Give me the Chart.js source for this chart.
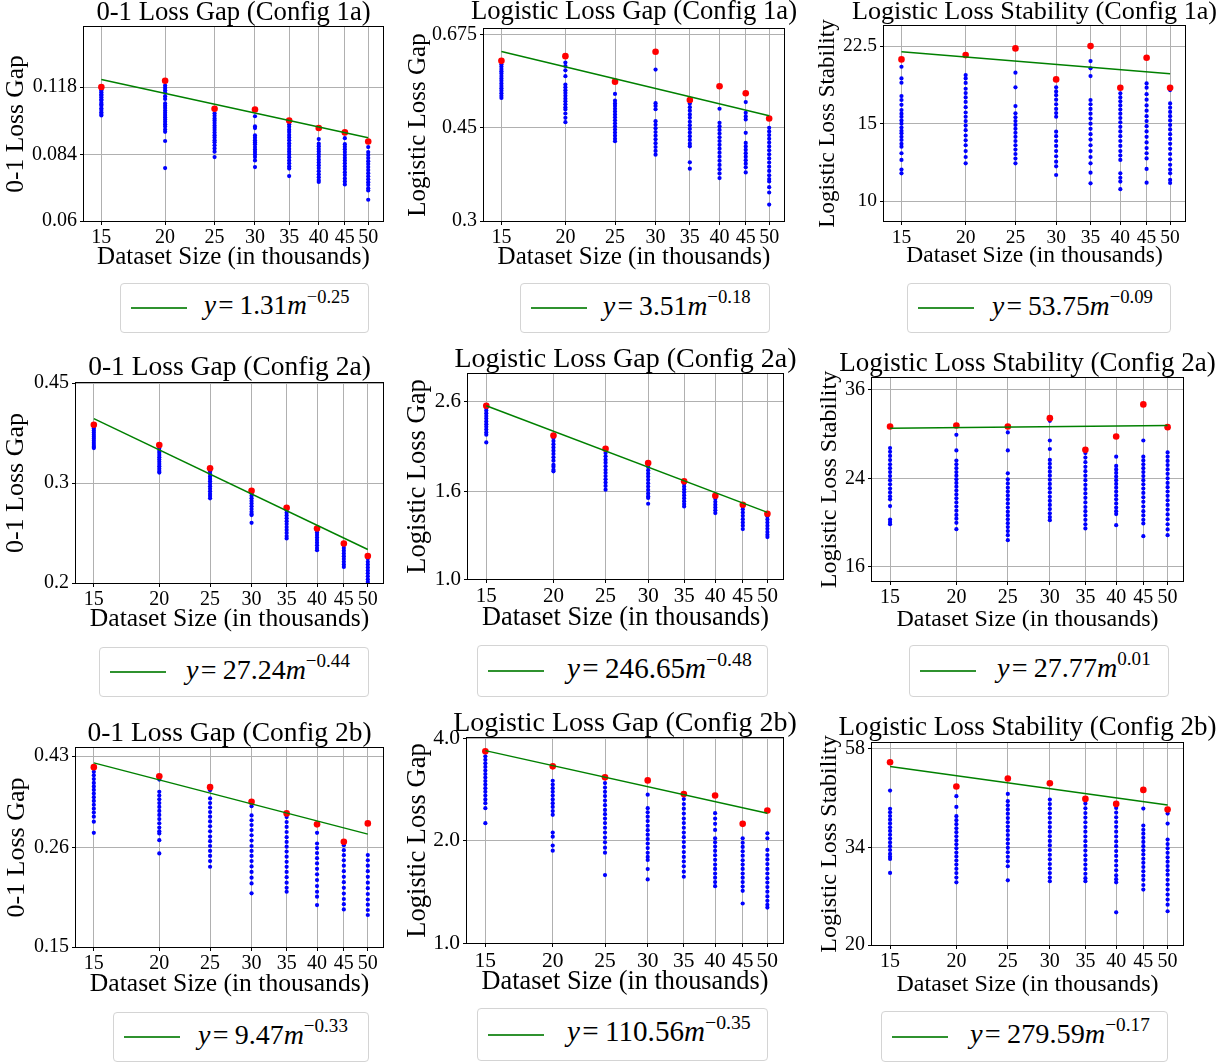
<!DOCTYPE html>
<html>
<head>
<meta charset="utf-8">
<title>Loss gap and stability vs dataset size</title>
<script src="https://cdn.jsdelivr.net/npm/chart.js"></script>
<style>
	body { margin: 0; width: 1228px; height: 1063px; position: relative; overflow: hidden; background: #fff; font-family: 'Liberation Serif', serif; }
	canvas { position: absolute; }
	.legend { position: absolute; box-sizing: border-box; border: 1px solid #d4d4d4; border-radius: 4px; background: #fff; }
	.legend .swatch { position: absolute; left: 10px; width: 56px; height: 2px; background: #2f922f; }
	.legend .eq { position: absolute; font-family: 'Liberation Serif', serif; white-space: nowrap; color: #000; }
	.legend .eq .rel { margin: 0 0.22em 0 0.08em; }
	.legend .eq sup { font-size: 0.68em; line-height: 0; vertical-align: 0.62em; }
</style>
</head>
<body>
<script>

	// Dataset sizes (thousands) on the x axis.
	const sizes = [15, 20, 25, 30, 35, 40, 45, 50];
	const xTickLabels = ['15', '20', '25', '30', '35', '40', '45', '50'];
	const xTitle = 'Dataset Size (in thousands)';

	const titles = [
		'0-1 Loss Gap (Config 1a)', 'Logistic Loss Gap (Config 1a)', 'Logistic Loss Stability (Config 1a)',
		'0-1 Loss Gap (Config 2a)', 'Logistic Loss Gap (Config 2a)', 'Logistic Loss Stability (Config 2a)',
		'0-1 Loss Gap (Config 2b)', 'Logistic Loss Gap (Config 2b)', 'Logistic Loss Stability (Config 2b)'
	];
	const yTitles = [
		'0-1 Loss Gap', 'Logistic Loss Gap', 'Logistic Loss Stability',
		'0-1 Loss Gap', 'Logistic Loss Gap', 'Logistic Loss Stability',
		'0-1 Loss Gap', 'Logistic Loss Gap', 'Logistic Loss Stability'
	];

	const yTickValues = [
		[0.06, 0.084, 0.118], [0.3, 0.45, 0.675], [10, 15, 22.5],
		[0.2, 0.3, 0.45], [1.0, 1.6, 2.6], [16, 24, 36],
		[0.15, 0.26, 0.43], [1.0, 2.0, 4.0], [20, 34, 58]
	];
	const yTickLabels = [
		['0.06', '0.084', '0.118'], ['0.3', '0.45', '0.675'], ['10', '15', '22.5'],
		['0.2', '0.3', '0.45'], ['1.0', '1.6', '2.6'], ['16', '24', '36'],
		['0.15', '0.26', '0.43'], ['1.0', '2.0', '4.0'], ['20', '34', '58']
	];
	const yMin = [0.06, 0.3, 9.02, 0.2, 1.0, 15.0, 0.15, 1.0, 20];
	const yMax = [0.16, 0.692, 24.98, 0.45, 3.013, 38.0, 0.45, 4.0, 59.9];
	const xMin = 13.87;
	const xMax = 53.45;

	// Fitted power laws shown in the legends.
	const fitCoef = ['1.31', '3.51', '53.75', '27.24', '246.65', '27.77', '9.47', '110.56', '279.59'];
	const fitExp = ['\u22120.25', '\u22120.18', '\u22120.09', '\u22120.44', '\u22120.48', '0.01', '\u22120.33', '\u22120.35', '\u22120.17'];

	// ---- Config 1a ----
	const gap01Runs1a = [
		[0.1176, 0.1168, 0.1160, 0.1151, 0.1139, 0.1131, 0.1122, 0.1110, 0.1103, 0.1091, 0.1082, 0.1074, 0.1061, 0.1052, 0.1040, 0.1031, 0.1023],
		[0.1191, 0.1176, 0.1162, 0.1149, 0.1128, 0.1112, 0.1087, 0.1074, 0.1063, 0.1049, 0.1037, 0.1026, 0.1014, 0.1002, 0.0991, 0.0979, 0.0968, 0.0953, 0.0942, 0.0899, 0.0784],
		[0.1034, 0.1021, 0.1008, 0.0997, 0.0985, 0.0972, 0.0961, 0.0950, 0.0938, 0.0926, 0.0915, 0.0903, 0.0893, 0.0880, 0.0866, 0.0852, 0.0829],
		[0.1019, 0.0968, 0.0960, 0.0925, 0.0914, 0.0903, 0.0893, 0.0884, 0.0872, 0.0861, 0.0851, 0.0840, 0.0829, 0.0815, 0.0788],
		[0.0978, 0.0966, 0.0952, 0.0941, 0.0927, 0.0915, 0.0902, 0.0889, 0.0877, 0.0864, 0.0852, 0.0840, 0.0828, 0.0815, 0.0803, 0.0791, 0.0782, 0.0753],
		[0.0908, 0.0887, 0.0876, 0.0864, 0.0853, 0.0841, 0.0830, 0.0818, 0.0807, 0.0795, 0.0784, 0.0772, 0.0760, 0.0749, 0.0738, 0.0731],
		[0.0912, 0.0885, 0.0873, 0.0862, 0.0850, 0.0838, 0.0826, 0.0815, 0.0803, 0.0791, 0.0780, 0.0768, 0.0757, 0.0744, 0.0733, 0.0722],
		[0.0872, 0.0850, 0.0838, 0.0825, 0.0812, 0.0800, 0.0788, 0.0776, 0.0764, 0.0752, 0.0741, 0.0730, 0.0720, 0.0708, 0.0700, 0.0668]
	];
	const gap01Max1a = [0.1181, 0.1219, 0.1058, 0.1054, 0.0997, 0.0960, 0.0939, 0.0897];
	const gap01Fit1a = [0.1227, 0.0914];

	const logGapRuns1a = [
		[0.5935, 0.5878, 0.5815, 0.5760, 0.5702, 0.5640, 0.5580, 0.5522, 0.5460, 0.5401, 0.5345, 0.5290, 0.5232, 0.5175, 0.5127],
		[0.5979, 0.5890, 0.5780, 0.5636, 0.5434, 0.5370, 0.5302, 0.5240, 0.5175, 0.5110, 0.5050, 0.4985, 0.4920, 0.4877, 0.4790, 0.4701, 0.4613],
		[0.5216, 0.5066, 0.5005, 0.4950, 0.4890, 0.4830, 0.4770, 0.4712, 0.4650, 0.4590, 0.4530, 0.4470, 0.4410, 0.4350, 0.4290, 0.4245],
		[0.5799, 0.5010, 0.4950, 0.4880, 0.4633, 0.4560, 0.4490, 0.4420, 0.4350, 0.4280, 0.4210, 0.4140, 0.4070, 0.4005],
		[0.5005, 0.4925, 0.4850, 0.4770, 0.4700, 0.4620, 0.4550, 0.4480, 0.4410, 0.4340, 0.4270, 0.4200, 0.4153, 0.3873, 0.3767],
		[0.4890, 0.4600, 0.4530, 0.4460, 0.4390, 0.4320, 0.4250, 0.4180, 0.4110, 0.4040, 0.3970, 0.3900, 0.3830, 0.3760, 0.3690, 0.3616],
		[0.5034, 0.4805, 0.4730, 0.4667, 0.4403, 0.4214, 0.4150, 0.4090, 0.4030, 0.3970, 0.3910, 0.3850, 0.3790, 0.3706],
		[0.4500, 0.4430, 0.4360, 0.4290, 0.4220, 0.4150, 0.4080, 0.4010, 0.3940, 0.3870, 0.3800, 0.3730, 0.3660, 0.3600, 0.3563, 0.3476, 0.3396, 0.3222]
	];
	const logGapMax1a = [0.6024, 0.6148, 0.5503, 0.6266, 0.5080, 0.5392, 0.5230, 0.4688];
	const logGapFit1a = [0.6275, 0.4744];

	const logStabRuns1a = [
		[20.19, 19.00, 18.57, 17.32, 16.97, 16.55, 16.10, 15.80, 15.55, 15.25, 15.00, 14.70, 14.45, 14.26, 14.00, 13.77, 13.50, 13.30, 12.85, 12.41, 11.80, 11.57],
		[19.33, 19.00, 18.55, 18.00, 17.60, 17.20, 16.80, 16.35, 15.90, 15.55, 15.20, 14.85, 14.50, 14.10, 13.75, 13.40, 13.00, 12.60, 12.19],
		[19.57, 18.13, 16.44, 15.83, 15.50, 15.20, 14.90, 14.60, 14.30, 14.00, 13.70, 13.40, 13.10, 12.80, 12.50, 12.19],
		[18.13, 17.75, 17.40, 17.00, 16.60, 16.20, 15.85, 15.55, 14.38, 14.05, 13.70, 13.35, 13.00, 12.65, 12.30, 12.00, 11.47],
		[20.80, 20.02, 19.23, 16.97, 16.60, 16.20, 15.80, 15.40, 15.00, 14.60, 14.20, 13.80, 13.40, 13.00, 12.60, 12.19, 11.61, 10.98],
		[17.57, 17.20, 16.85, 16.50, 16.15, 15.80, 15.45, 15.10, 14.75, 14.40, 14.05, 13.70, 13.35, 13.00, 12.70, 12.41, 11.57, 11.30, 11.08, 10.65],
		[18.51, 18.10, 17.50, 17.00, 16.50, 16.05, 15.60, 15.20, 14.80, 14.40, 14.00, 13.60, 13.20, 12.85, 12.51, 11.84, 11.02],
		[17.87, 16.67, 16.30, 15.95, 15.60, 15.25, 14.90, 14.55, 14.20, 13.85, 13.50, 13.15, 12.80, 12.45, 12.10, 11.80, 11.57, 11.18, 11.00]
	];
	const logStabMax1a = [20.98, 21.46, 22.22, 18.90, 22.49, 18.09, 21.16, 18.09];
	const logStabFit1a = [21.83, 19.47];

	// ---- Config 2a ----
	const gap01Runs2a = [
		[0.3770, 0.3740, 0.3710, 0.3680, 0.3650, 0.3620, 0.3590, 0.3560, 0.3530, 0.3500, 0.3475, 0.3456],
		[0.3456, 0.3420, 0.3390, 0.3360, 0.3330, 0.3300, 0.3270, 0.3240, 0.3210, 0.3180, 0.3150, 0.3129],
		[0.3142, 0.3110, 0.3080, 0.3050, 0.3020, 0.2990, 0.2960, 0.2930, 0.2900, 0.2870, 0.2845, 0.2819],
		[0.2877, 0.2850, 0.2820, 0.2790, 0.2760, 0.2730, 0.2700, 0.2670, 0.2645, 0.2634, 0.2553],
		[0.2688, 0.2660, 0.2630, 0.2600, 0.2570, 0.2540, 0.2510, 0.2480, 0.2450, 0.2420, 0.2396],
		[0.2478, 0.2455, 0.2430, 0.2405, 0.2380, 0.2355, 0.2330, 0.2305, 0.2284],
		[0.2331, 0.2305, 0.2280, 0.2255, 0.2230, 0.2205, 0.2180, 0.2155, 0.2135],
		[0.2208, 0.2180, 0.2155, 0.2130, 0.2105, 0.2080, 0.2055, 0.2030, 0.2010]
	];
	const gap01Max2a = [0.3800, 0.3498, 0.3185, 0.2908, 0.2714, 0.2495, 0.2347, 0.2232];
	const gap01Fit2a = [0.3894, 0.2291];

	const logGapRuns2a = [
		[2.508, 2.475, 2.440, 2.405, 2.370, 2.335, 2.300, 2.268, 2.235, 2.200, 2.173, 2.085],
		[2.134, 2.100, 2.065, 2.030, 1.995, 1.960, 1.925, 1.890, 1.849, 1.830, 1.800, 1.785],
		[1.969, 1.935, 1.900, 1.870, 1.835, 1.800, 1.770, 1.740, 1.710, 1.680, 1.650, 1.617],
		[1.826, 1.795, 1.765, 1.735, 1.705, 1.675, 1.645, 1.615, 1.585, 1.560, 1.546, 1.499],
		[1.670, 1.645, 1.620, 1.595, 1.570, 1.545, 1.520, 1.497, 1.478],
		[1.560, 1.540, 1.515, 1.492, 1.470, 1.447, 1.426],
		[1.478, 1.455, 1.430, 1.405, 1.380, 1.356, 1.332, 1.308],
		[1.401, 1.378, 1.355, 1.332, 1.310, 1.288, 1.268, 1.253]
	];
	const logGapMax2a = [2.539, 2.165, 2.015, 1.866, 1.691, 1.565, 1.491, 1.421];
	const logGapFit2a = [2.539, 1.431];

	const logStabRuns2a = [
		[27.57, 27.10, 26.60, 26.10, 25.60, 25.15, 24.70, 24.25, 23.80, 23.35, 22.90, 22.50, 22.10, 21.80, 21.14, 19.88, 19.65, 19.46],
		[29.30, 27.27, 26.03, 25.60, 25.15, 24.70, 24.30, 23.90, 23.50, 23.10, 22.70, 22.30, 21.90, 21.50, 21.10, 20.70, 20.30, 19.95, 19.58, 19.02],
		[29.62, 27.27, 24.56, 23.89, 23.45, 23.00, 22.60, 22.20, 21.80, 21.40, 21.00, 20.60, 20.25, 19.90, 19.55, 19.20, 18.85, 18.50, 18.08],
		[31.24, 28.54, 27.45, 26.11, 25.65, 25.20, 24.75, 24.30, 23.85, 23.40, 22.95, 22.50, 22.05, 21.65, 21.25, 20.85, 20.45, 20.10, 19.82],
		[26.94, 26.40, 25.85, 25.30, 24.80, 24.30, 23.80, 23.30, 22.85, 22.40, 21.95, 21.50, 21.05, 20.65, 20.25, 19.85, 19.45, 19.08],
		[26.51, 25.40, 25.00, 24.60, 24.20, 23.80, 23.40, 23.00, 22.60, 22.20, 21.80, 21.40, 21.00, 20.65, 20.38, 19.37],
		[28.54, 26.51, 26.05, 25.60, 25.15, 24.70, 24.25, 23.80, 23.35, 22.90, 22.45, 22.00, 21.55, 21.10, 20.65, 20.25, 19.85, 19.52, 18.42],
		[27.02, 26.50, 26.00, 25.50, 25.00, 24.50, 24.00, 23.50, 23.05, 22.60, 22.15, 21.70, 21.25, 20.80, 20.35, 19.90, 19.45, 19.00, 18.50]
	];
	const logStabMax2a = [30.43, 30.57, 30.43, 31.62, 27.36, 29.08, 33.67, 30.34];
	const logStabFit2a = [30.20, 30.57];

	// ---- Config 2b ----
	const gap01Runs2b = [
		[0.3945, 0.3870, 0.3790, 0.3710, 0.3640, 0.3570, 0.3500, 0.3430, 0.3360, 0.3290, 0.3220, 0.3150, 0.3080, 0.2996, 0.2817],
		[0.3781, 0.3533, 0.3460, 0.3390, 0.3320, 0.3250, 0.3180, 0.3110, 0.3040, 0.2970, 0.2900, 0.2840, 0.2808, 0.2706, 0.2514],
		[0.3566, 0.3406, 0.3320, 0.3240, 0.3160, 0.3080, 0.3000, 0.2920, 0.2840, 0.2760, 0.2690, 0.2620, 0.2550, 0.2480, 0.2410, 0.2336],
		[0.3264, 0.3101, 0.3020, 0.2940, 0.2860, 0.2780, 0.2700, 0.2620, 0.2550, 0.2480, 0.2410, 0.2340, 0.2270, 0.2200, 0.2131, 0.2017],
		[0.3073, 0.2990, 0.2910, 0.2830, 0.2750, 0.2680, 0.2610, 0.2540, 0.2470, 0.2400, 0.2335, 0.2270, 0.2205, 0.2140, 0.2080, 0.2035],
		[0.2817, 0.2656, 0.2590, 0.2520, 0.2450, 0.2380, 0.2310, 0.2240, 0.2170, 0.2100, 0.2035, 0.1980, 0.1891],
		[0.2632, 0.2560, 0.2490, 0.2420, 0.2350, 0.2280, 0.2210, 0.2145, 0.2080, 0.2015, 0.1955, 0.1900, 0.1846],
		[0.2491, 0.2420, 0.2350, 0.2280, 0.2210, 0.2140, 0.2075, 0.2010, 0.1950, 0.1895, 0.1840, 0.1790]
	];
	const gap01Max2b = [0.4048, 0.3851, 0.3625, 0.3343, 0.3136, 0.2952, 0.2681, 0.2968];
	const gap01Fit2b = [0.4145, 0.2797];

	const logGapRuns2b = [
		[3.534, 3.450, 3.370, 3.290, 3.210, 3.135, 3.060, 2.990, 2.920, 2.850, 2.780, 2.710, 2.640, 2.575, 2.489, 2.248],
		[2.996, 2.920, 2.850, 2.780, 2.710, 2.640, 2.575, 2.510, 2.440, 2.379, 2.110, 2.053, 1.932, 1.867],
		[2.949, 2.860, 2.780, 2.700, 2.620, 2.540, 2.460, 2.390, 2.320, 2.250, 2.180, 2.110, 2.040, 1.975, 1.905, 1.842, 1.583],
		[2.727, 2.489, 2.420, 2.350, 2.280, 2.210, 2.145, 2.080, 2.020, 1.960, 1.900, 1.840, 1.790, 1.753, 1.649, 1.537],
		[2.646, 2.560, 2.480, 2.400, 2.320, 2.250, 2.180, 2.110, 2.045, 1.980, 1.915, 1.850, 1.790, 1.735, 1.680, 1.620, 1.565],
		[2.406, 2.320, 2.238, 2.148, 2.030, 1.975, 1.920, 1.865, 1.810, 1.755, 1.700, 1.650, 1.600, 1.555, 1.510, 1.469],
		[2.030, 1.970, 1.915, 1.860, 1.805, 1.750, 1.700, 1.650, 1.600, 1.555, 1.510, 1.465, 1.423, 1.306],
		[2.100, 2.030, 1.876, 1.813, 1.760, 1.705, 1.650, 1.600, 1.550, 1.505, 1.460, 1.415, 1.370, 1.330, 1.295, 1.271]
	];
	const logGapMax2b = [3.656, 3.302, 3.065, 3.003, 2.737, 2.712, 2.238, 2.450];
	const logGapFit2b = [3.673, 2.406];

	const logStabRuns2b = [
		[46.27, 41.89, 41.10, 40.30, 39.50, 38.70, 37.90, 37.15, 36.40, 35.65, 34.90, 34.20, 33.50, 32.80, 32.30, 31.91, 29.58],
		[44.87, 42.34, 40.25, 39.40, 38.55, 37.70, 36.90, 36.10, 35.30, 34.55, 33.80, 33.05, 32.35, 31.65, 30.95, 30.25, 29.55, 28.85, 28.11],
		[45.44, 43.67, 42.70, 41.75, 40.80, 39.85, 38.95, 38.05, 37.20, 36.35, 35.50, 34.70, 33.90, 33.10, 32.30, 31.50, 30.67, 28.42],
		[44.06, 43.00, 41.95, 40.90, 39.90, 38.90, 37.95, 37.00, 36.10, 35.20, 34.35, 33.50, 32.65, 31.85, 31.05, 30.30, 29.55, 28.85, 28.27],
		[43.11, 42.00, 40.95, 39.95, 38.95, 37.95, 37.00, 36.05, 35.15, 34.25, 33.40, 32.55, 31.75, 30.95, 30.20, 29.45, 28.75, 28.27],
		[42.11, 41.05, 40.00, 39.00, 38.00, 37.00, 36.05, 35.10, 34.20, 33.30, 32.45, 31.60, 30.80, 30.00, 29.20, 28.60, 28.11, 23.88],
		[41.96, 38.25, 37.40, 36.60, 35.80, 35.00, 34.20, 33.45, 32.70, 31.95, 31.25, 30.55, 29.85, 29.15, 28.50, 27.70, 27.02],
		[40.84, 38.67, 35.45, 34.60, 33.80, 33.00, 32.20, 31.45, 30.70, 30.00, 29.30, 28.50, 27.76, 27.02, 26.30, 25.60, 24.90, 24.02]
	];
	const logStabMax2b = [53.97, 47.28, 49.39, 48.15, 44.22, 43.03, 46.43, 41.73];
	const logStabFit2b = [52.71, 42.80];

	const runs = [gap01Runs1a, logGapRuns1a, logStabRuns1a, gap01Runs2a, logGapRuns2a, logStabRuns2a, gap01Runs2b, logGapRuns2b, logStabRuns2b];
	const maxima = [gap01Max1a, logGapMax1a, logStabMax1a, gap01Max2a, logGapMax2a, logStabMax2a, gap01Max2b, logGapMax2b, logStabMax2b];
	const fits = [gap01Fit1a, logGapFit1a, logStabFit1a, gap01Fit2a, logGapFit2a, logStabFit2a, gap01Fit2b, logGapFit2b, logStabFit2b];


	// Page layout: plot frame [left, top, right, bottom], axis-title baselines, legend boxes [x, y, w, h, textX].
	const frames = [
		[84, 27, 383, 221], [484, 29, 784, 221], [884, 26, 1185, 221],
		[76, 383, 383, 583], [468, 374, 783, 579], [872, 378, 1183, 581],
		[76, 748, 383, 947], [467, 738, 783, 943], [872, 743, 1183, 945]
	];
	const titleGap = [5.3, 7.6, 5.3, 5.7, 4.7, 5, 5, 4.7, 5.6];
	const yTitleBase = [25, 426, 836, 25.7, 427, 837, 26.7, 427, 837];
	const xTitleBase = [265, 265, 264, 628.3, 626.7, 627.3, 993.3, 990.7, 992.7];
	const legendBoxes = [
		[120, 283, 249, 50, 84], [520, 283, 250, 50, 83], [907, 283, 264, 50, 85],
		[99, 647, 270, 50, 87], [477, 645, 291, 52, 90], [909, 645, 260, 52, 88],
		[113, 1012, 256, 50, 85], [477, 1008, 291, 53, 90], [881, 1011, 287, 51, 89]
	];
	// Font sizes differ a little from panel to panel.
	const titleSize = [26.7, 26.7, 26.2, 27.5, 28, 27, 27.5, 28, 27];
	const xTitleSize = [25, 25, 23.5, 25.6, 26.3, 24, 25.6, 26.3, 24];
	const yTitleSize = [25.5, 25, 23, 26, 26.5, 24, 26, 26.5, 24];
	const tickSize = [20, 20, 19.5, 20, 21, 20, 20, 21.5, 20];
	const legendSize = [27.2, 27.6, 27.5, 28, 29.1, 28.1, 28, 29.1, 28.3];

	const serif = "'Liberation Serif', 'Times New Roman', serif";
	const MID = 0.3375; // canvas 'middle' to alphabetic baseline, in em
	Chart.defaults.font.family = serif;
	Chart.defaults.color = '#000';

	// All four spines.
	const framePlugin = {
		id: 'frame',
		beforeDatasetsDraw(chart) {
			const a = chart.chartArea;
			const ctx = chart.ctx;
			ctx.save();
			ctx.strokeStyle = '#000';
			ctx.lineWidth = 1;
			ctx.strokeRect(Math.round(a.left) - 0.5, Math.round(a.top) - 0.5, Math.round(a.right - a.left) + 1, Math.round(a.bottom - a.top) + 1);
			ctx.restore();
		}
	};

	for (let p = 0; p < 9; p++) {
		const [L, T, R, B] = frames[p];
		const ft = titleSize[p], fx = xTitleSize[p], fy = yTitleSize[p];

		const yMid = yTitleBase[p] - MID * fy;
		const cl = Math.round(yMid - 0.6 * fy);
		const cr = Math.round(L + R - cl);
		const titleBox = Math.ceil(ft * (0.5 + MID) + titleGap[p]);
		const titlePadBottom = titleGap[p] - ft * (0.5 - MID);
		const titlePadTop = titleBox - ft - titlePadBottom;
		const ct = T - titleBox;
		const cb = Math.round(xTitleBase[p] - MID * fx + 0.6 * fx);
		const yAxisWidth = L - cl;
		const xAxisHeight = cb - B;
		const rightPad = cr - R;

		const canvas = document.createElement('canvas');
		canvas.width = cr - cl;
		canvas.height = cb - ct;
		canvas.style.left = cl + 'px';
		canvas.style.top = ct + 'px';
		canvas.style.width = (cr - cl) + 'px';
		canvas.style.height = (cb - ct) + 'px';
		document.body.appendChild(canvas);

		const runPoints = [];
		for (let i = 0; i < sizes.length; i++) {
			for (let k = 0; k < runs[p][i].length; k++) {
				runPoints.push({ x: sizes[i], y: runs[p][i][k] });
			}
		}
		const maxPoints = sizes.map((s, i) => ({ x: s, y: maxima[p][i] }));
		const fitPoints = [{ x: sizes[0], y: fits[p][0] }, { x: sizes[sizes.length - 1], y: fits[p][1] }];

		const gridOpts = { color: '#b0b0b0', lineWidth: 1, tickLength: 4, tickColor: '#000', tickWidth: 1 };

		new Chart(canvas, {
			type: 'scatter',
			data: {
				datasets: [
					{ data: fitPoints, showLine: true, borderColor: '#008000', borderWidth: 1.5, pointRadius: 0 },
					{ data: maxPoints, backgroundColor: '#ff0000', borderWidth: 0, pointRadius: 3.3 },
					{ data: runPoints, backgroundColor: '#0000ff', borderWidth: 0, pointRadius: 2.1 }
				]
			},
			options: {
				responsive: false,
				animation: false,
				devicePixelRatio: 1,
				layout: { padding: 0 },
				events: [],
				plugins: {
					legend: { display: false },
					tooltip: { enabled: false },
					title: {
						display: true,
						text: titles[p],
						color: '#000',
						font: { family: serif, size: ft, weight: 'normal', lineHeight: 1 },
						padding: { top: titlePadTop, bottom: titlePadBottom }
					}
				},
				scales: {
					x: {
						type: 'logarithmic',
						position: 'bottom',
						min: xMin,
						max: xMax,
						afterBuildTicks: (s) => { s.ticks = sizes.map(v => ({ value: v })); },
						afterFit: (s) => { s.height = xAxisHeight; },
						ticks: {
							autoSkip: false, maxRotation: 0, minRotation: 0, padding: 1,
							font: { family: serif, size: tickSize[p] },
							callback: (v, i) => xTickLabels[i]
						},
						grid: gridOpts,
						border: { display: false },
						title: { display: true, text: xTitle, font: { family: serif, size: fx, lineHeight: 1.2 }, padding: 0 }
					},
					y: {
						type: 'logarithmic',
						position: 'left',
						min: yMin[p],
						max: yMax[p],
						afterBuildTicks: (s) => { s.ticks = yTickValues[p].map(v => ({ value: v })); },
						afterFit: (s) => { s.width = yAxisWidth; },
						ticks: {
							padding: 3,
							font: { family: serif, size: tickSize[p] },
							callback: (v, i) => yTickLabels[p][i]
						},
						grid: gridOpts,
						border: { display: false },
						title: { display: true, text: yTitles[p], font: { family: serif, size: fy, lineHeight: 1.2 }, padding: 0 }
					},
					pad: {
						type: 'linear',
						position: 'right',
						display: true,
						grid: { display: false, drawTicks: false },
						border: { display: false },
						ticks: { display: false },
						afterFit: (s) => { s.width = rightPad; }
					}
				}
			},
			plugins: [framePlugin]
		});

		// Legend box with the fitted law.
		const [lx, ly, lw, lh, tx] = legendBoxes[p];
		const fs = legendSize[p];
		const box = document.createElement('div');
		box.className = 'legend';
		box.style.left = lx + 'px';
		box.style.top = ly + 'px';
		box.style.width = lw + 'px';
		box.style.height = lh + 'px';

		const swatch = document.createElement('span');
		swatch.className = 'swatch';
		swatch.style.top = (lh / 2 - 2) + 'px';
		box.appendChild(swatch);

		const eq = document.createElement('span');
		eq.className = 'eq';
		eq.style.fontSize = fs + 'px';
		eq.style.lineHeight = fs + 'px';
		eq.style.left = (tx - 1) + 'px';
		eq.style.top = (lh / 2 + 7 - 1 - (0.5 + MID) * fs) + 'px';
		eq.innerHTML = '<i>y</i><span class="rel">=</span>' + fitCoef[p] + '<i>m</i><sup>' + fitExp[p] + '</sup>';
		box.appendChild(eq);

		document.body.appendChild(box);
	}

</script>
</body>
</html>
